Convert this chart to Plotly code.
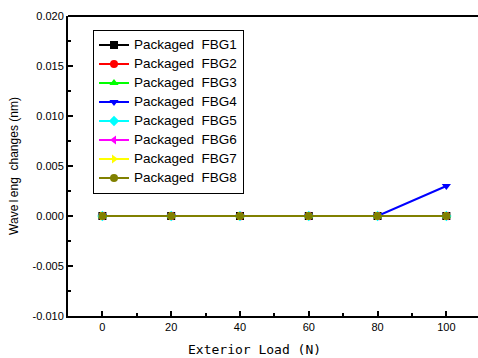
import plotly.graph_objects as go

loads = [0, 20, 40, 60, 80, 100]
names = ["Packaged FBG1", "Packaged FBG2", "Packaged FBG3", "Packaged FBG4",
         "Packaged FBG5", "Packaged FBG6", "Packaged FBG7", "Packaged FBG8"]
fbg1 = [0, 0, 0, 0, 0, 0]
fbg2 = [0, 0, 0, 0, 0, 0]
fbg3 = [0, 0, 0, 0, 0, 0]
fbg4 = [0, 0, 0, 0, 0, 0.003]
fbg5 = [0, 0, 0, 0, 0, 0]
fbg6 = [0, 0, 0, 0, 0, 0]
fbg7 = [0, 0, 0, 0, 0, 0]
fbg8 = [0, 0, 0, 0, 0, 0]
series = [fbg1, fbg2, fbg3, fbg4, fbg5, fbg6, fbg7, fbg8]
colors = ["#000000", "#FF0000", "#00FF00", "#0000FF", "#00FFFF", "#FF00FF", "#FFFF00", "#808000"]
symbols = ["square", "circle", "triangle-up", "triangle-down", "diamond",
           "triangle-left", "triangle-right", "circle"]

fig = go.Figure()
for n, s, c, m in zip(names, series, colors, symbols):
    label = '<span style="font-size:13.5px">' + n.replace(" ", "\u00a0\u00a0") + "</span>"
    fig.add_trace(go.Scatter(
        x=loads, y=s, name=label, mode="lines+markers",
        line=dict(color=c, width=2),
        marker=dict(symbol=m, color=c, size=8),
    ))

fig.update_layout(
    width=478, height=358,
    margin=dict(l=68, r=0, t=16, b=42),
    paper_bgcolor="white", plot_bgcolor="white",
    font=dict(family="Arial, Liberation Sans", size=11, color="black"),
    showlegend=True,
    legend=dict(
        x=0.061, y=0.955, xanchor="left", yanchor="top",
        bgcolor="white", bordercolor="black", borderwidth=1,
        font=dict(family="Arial, Liberation Sans", size=11),
        tracegroupgap=0, itemwidth=30,
    ),
    xaxis=dict(
        range=[-10, 109.2], tickmode="array", tickvals=[0, 20, 40, 60, 80, 100],
        ticks="inside", ticklen=5, tickwidth=2, tickcolor="black",
        minor=dict(tickvals=[10, 30, 50, 70, 90], ticks="inside", ticklen=3, tickwidth=2, tickcolor="black"),
        showline=True, linecolor="black", linewidth=2, showgrid=False, zeroline=False,
        tickfont=dict(size=11),
    ),
    yaxis=dict(
        range=[-0.010, 0.020], tickmode="array",
        tickvals=[-0.010, -0.005, 0, 0.005, 0.010, 0.015, 0.020],
        ticktext=["-0.010", "-0.005", "0.000", "0.005", "0.010", "0.015", "0.020"],
        ticks="inside", ticklen=5, tickwidth=2, tickcolor="black",
        minor=dict(tickvals=[-0.0075, -0.0025, 0.0025, 0.0075, 0.0125, 0.0175], ticks="inside", ticklen=3, tickwidth=2, tickcolor="black"),
        showline=True, linecolor="black", linewidth=2, showgrid=False, zeroline=False,
        title=dict(text="Wave\u2009l\u2009eng\u00a0\u00a0changes\u00a0(nm)",
                   font=dict(family="Arial, Liberation Sans", size=12), standoff=11),
        tickfont=dict(size=11),
    ),
    shapes=[dict(type="line", xref="paper", yref="paper", x0=0, x1=1, y0=1, y1=1,
                 line=dict(color="black", width=2))],
    annotations=[dict(text="Exterior Load (N)", xref="paper", yref="paper",
                      x=0.4537, y=-0.08, xanchor="center", yanchor="top", showarrow=False,
                      font=dict(family="DejaVu Sans Mono", size=13))],
)

fig.write_html("out.html")
